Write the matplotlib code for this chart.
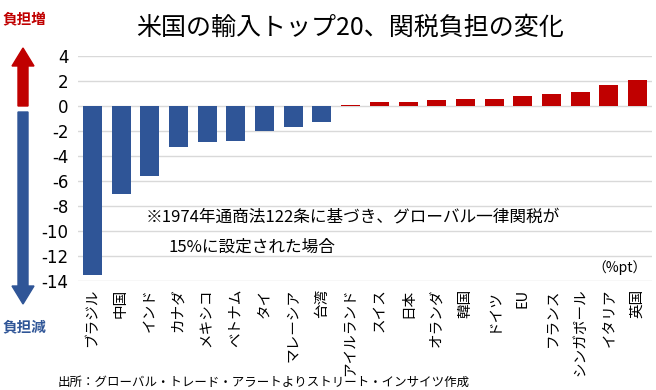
import matplotlib
matplotlib.use("Agg")
import matplotlib.pyplot as plt
from matplotlib.patches import FancyArrow

plt.rcParams['font.family'] = ['Noto Sans CJK JP', 'DejaVu Sans']

countries = ['ブラジル', '中国', 'インド', 'カナダ', 'メキシコ', 'ベトナム', 'タイ',
             'マレーシア', '台湾', 'アイルランド', 'スイス', '日本', 'オランダ', '韓国',
             'ドイツ', 'EU', 'フランス', 'シンガポール', 'イタリア', '英国']
change = [-13.5, -7.0, -5.6, -3.3, -2.9, -2.8, -2.0, -1.7, -1.3, 0.05,
          0.35, 0.35, 0.5, 0.6, 0.6, 0.8, 1.0, 1.1, 1.7, 2.1]
yticks = [4, 2, 0, -2, -4, -6, -8, -10, -12, -14]

blue = '#2F5597'
red = '#C00000'

fig = plt.figure(figsize=(6.56, 3.9), dpi=100)
ax = fig.add_axes([78/656, 1-281/390, 574/656, 225/390])

colors = [red if v > 0 else blue for v in change]
ax.bar(range(len(countries)), change, width=0.66, color=colors, zorder=3)

ax.set_xlim(-0.5, len(countries) - 0.5)
ax.set_ylim(-14, 4)
ax.set_yticks(yticks)
ax.set_yticklabels([str(t) for t in yticks], fontsize=12, family='DejaVu Sans')
ax.yaxis.grid(True, color='#D9D9D9', linewidth=1, zorder=0)
ax.set_xticks([])
for s in ax.spines.values():
    s.set_visible(False)
ax.tick_params(axis='y', length=0, pad=7)

for i, name in enumerate(countries):
    ax.text(i, -14.6, name, rotation=90, ha='center', va='top', fontsize=10.5)

ax.text(1.85, -8.9, '※1974年通商法122条に基づき、グローバル一律関税が', fontsize=12, va='center')
ax.text(2.65, -11.3, '15%に設定された場合', fontsize=12, va='center')
ax.text(19.3, -12.9, '（%pt）', fontsize=10, ha='right', va='center')

# overlay in pixel coordinates for title, arrows, side labels
ov = fig.add_axes([0, 0, 1, 1], zorder=-1)
ov.set_xlim(0, 656)
ov.set_ylim(390, 0)
ov.axis('off')

ov.text(350, 28, '米国の輸入トップ20、関税負担の変化', fontsize=18, ha='center', va='center')
ov.add_patch(FancyArrow(23, 106, 0, -58, width=10, head_width=22, head_length=18,
                        length_includes_head=True, color=red))
ov.add_patch(FancyArrow(23, 112, 0, 192, width=10, head_width=22, head_length=18,
                        length_includes_head=True, color=blue))
ov.text(24, 18, '負担増', color=red, fontsize=10.5, fontweight='bold', ha='center', va='center')
ov.text(24, 326, '負担減', color=blue, fontsize=10.5, fontweight='bold', ha='center', va='center')
ov.text(58, 382, '出所：グローバル・トレード・アラートよりストリート・インサイツ作成', fontsize=9,
        ha='left', va='center')

fig.savefig('out.png', dpi=100)
